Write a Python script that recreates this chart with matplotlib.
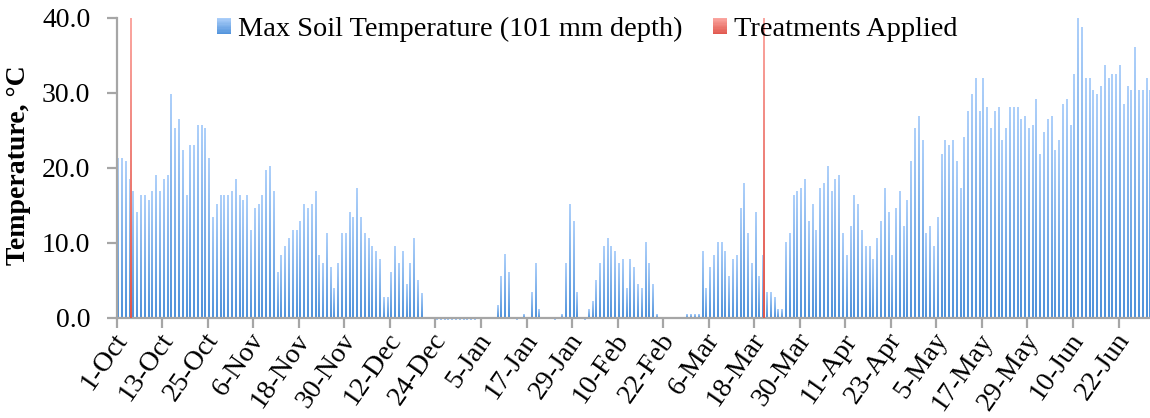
import matplotlib.pyplot as plt
import matplotlib.transforms as mtransforms
import numpy as np
from matplotlib.colors import LinearSegmentedColormap
from matplotlib.legend_handler import HandlerBase
from matplotlib.patches import Patch, Rectangle

# Daily max soil temperature (101 mm depth), 1-Oct .. 30-Jun, deg C
oct_t = [21.3, 21.3, 20.8, 18.4, 16.8, 14.0, 16.3, 16.3, 15.6, 16.8, 19.0, 16.8, 18.4, 19.0, 29.8, 25.2,
         26.4, 22.3, 16.3, 23.0, 23.0, 25.7, 25.7, 25.2, 21.3, 13.4, 15.1, 16.3, 16.3, 16.3, 16.8]
nov_t = [18.4, 16.3, 15.6, 16.3, 11.7, 14.6, 15.1, 16.3, 19.6, 20.2, 16.8, 6.1, 8.3, 9.5, 10.6, 11.7,
         11.7, 12.9, 15.1, 14.6, 15.1, 16.8, 8.3, 7.2, 11.2, 6.7, 3.9, 7.2, 11.2, 11.2]
dec_t = [14.0, 13.4, 17.3, 13.4, 11.2, 10.6, 9.5, 8.9, 7.8, 2.7, 2.7, 6.1, 9.5, 7.2, 8.9, 4.4,
         7.2, 10.6, 5.0, 3.3, 0.0, 0.0, 0.0, -0.3, -0.3, -0.3, -0.3, -0.3, -0.3, -0.3, -0.3]
jan_t = [-0.3, -0.3, -0.3, 0.0, 0.0, 0.0, 0.0, 0.0, 1.6, 5.5, 8.4, 6.1, 0.0, -0.3, 0.0, 0.5,
         0.0, 3.4, 7.2, 1.1, 0.0, 0.0, 0.0, -0.3, 0.0, 0.5, 7.2, 15.1, 12.9, 3.4, 0.0]
feb_t = [-0.3, 1.1, 2.2, 5.0, 7.2, 9.5, 10.6, 9.5, 8.9, 7.2, 7.8, 3.9, 7.8, 6.7, 4.4, 3.9,
         10.1, 7.2, 4.4, 0.5, 0.0, 0.0, 0.0, 0.0, 0.0, 0.0, 0.0, 0.5]
mar_t = [0.5, 0.5, 0.5, 8.9, 3.9, 6.7, 8.3, 10.1, 10.1, 8.9, 5.5, 7.8, 8.3, 14.6, 17.9, 11.2,
         7.2, 14.0, 5.5, 8.3, 3.4, 3.4, 2.7, 1.1, 1.1, 10.1, 11.2, 16.3, 16.8, 17.3, 18.4]
apr_t = [12.9, 15.1, 11.7, 17.3, 17.9, 20.2, 16.8, 18.4, 19.0, 11.2, 8.3, 12.2, 16.3, 15.1, 11.7, 9.5,
         9.5, 7.8, 10.6, 12.9, 17.3, 14.0, 8.3, 14.6, 16.8, 12.2, 15.6, 20.8, 25.2, 26.9]
may_t = [23.6, 11.2, 12.2, 9.5, 13.4, 21.8, 23.6, 23.0, 23.6, 20.8, 17.3, 24.1, 27.5, 29.8, 31.9, 27.5,
         31.9, 28.0, 25.2, 27.5, 28.0, 23.6, 25.2, 28.0, 28.0, 28.0, 26.4, 26.9, 25.2, 25.7, 29.1]
jun_t = [21.8, 24.7, 26.4, 26.9, 22.3, 23.6, 28.5, 29.1, 25.7, 32.5, 40.0, 38.7, 31.9, 31.9, 30.3, 29.8,
         30.8, 33.7, 31.9, 32.4, 32.4, 33.7, 28.5, 30.8, 30.3, 36.0, 30.3, 30.3, 31.9, 30.3]

temps = oct_t + nov_t + dec_t + jan_t + feb_t + mar_t + apr_t + may_t + jun_t

# treatment days (4-Oct and 20-Mar) drawn as full-height bars
treat_days = [3, 170]
treat_height = 40.0

tick_labels = ['1-Oct', '13-Oct', '25-Oct', '6-Nov', '18-Nov', '30-Nov', '12-Dec', '24-Dec',
               '5-Jan', '17-Jan', '29-Jan', '10-Feb', '22-Feb', '6-Mar', '18-Mar', '30-Mar',
               '11-Apr', '23-Apr', '5-May', '17-May', '29-May', '10-Jun', '22-Jun']

BLUE_TOP, BLUE_BOT = '#aed0fa', '#4f92db'
RED_TOP, RED_BOT = '#fba8a2', '#e0564c'
GREY = '#a6a6a6'

plt.rcParams['font.family'] = ['Liberation Serif', 'DejaVu Serif']


def gradient_fill(ax, rects, c_top, c_bot):
    cmap = LinearSegmentedColormap.from_list('g', [c_bot, c_top])
    grad = np.linspace(0, 1, 64).reshape(-1, 1)
    for r in rects:
        h = r.get_height()
        if h == 0:
            continue
        x0, w = r.get_x(), r.get_width()
        ax.imshow(grad if h > 0 else grad[::-1], extent=(x0, x0 + w, min(0, h), max(0, h)),
                  origin='lower', cmap=cmap, aspect='auto', interpolation='bilinear',
                  zorder=r.get_zorder() + 0.01)


class GradientSquare(HandlerBase):
    def __init__(self, c_top, c_bot, **kw):
        super().__init__(**kw)
        self.c_top, self.c_bot = c_top, c_bot

    def create_artists(self, legend, orig_handle, xdescent, ydescent, width, height, fontsize, trans):
        cmap = LinearSegmentedColormap.from_list('g', [self.c_bot, self.c_top])
        n = 12
        arts = []
        for k in range(n):
            arts.append(Rectangle((-xdescent, -ydescent + height * k / n), width, height / n + 0.3,
                                  facecolor=cmap((k + 0.5) / n), edgecolor='none', transform=trans))
        return arts


fig = plt.figure(figsize=(11.5, 4.18), dpi=100)
ax = fig.add_axes([0.1015, 0.2303, 0.8985, 0.7267])

x = np.arange(len(temps))
bars = ax.bar(x + 0.35, temps, width=0.45, color=BLUE_BOT, linewidth=0, zorder=2)
gradient_fill(ax, bars, BLUE_TOP, BLUE_BOT)

tx = np.array(treat_days)
tbars = ax.bar(tx + 0.62, [treat_height] * len(tx), width=0.42, color=RED_BOT, linewidth=0, zorder=3)
gradient_fill(ax, tbars, RED_TOP, RED_BOT)

ax.set_xlim(0, 272.3)
ax.set_ylim(-0.5, 40)

for s in ['top', 'right']:
    ax.spines[s].set_visible(False)
for s in ['left', 'bottom']:
    ax.spines[s].set_color(GREY)
    ax.spines[s].set_linewidth(1.6)
ax.spines['bottom'].set_position(('data', 0))
ax.spines['left'].set_bounds(0, 40)

ax.set_yticks([0, 10, 20, 30, 40])
ax.set_yticklabels([f'{v:.1f}' for v in [0, 10, 20, 30, 40]])
ax.set_xticks(np.arange(0, 12 * len(tick_labels), 12))
ax.set_xticklabels(tick_labels, rotation=55, ha='right', va='center', rotation_mode='anchor')
ax.tick_params(axis='both', colors=GREY, labelcolor='black', labelsize=20, width=1.6,
               length=7, direction='out')
ax.tick_params(axis='x', pad=10)
ax.tick_params(axis='y', pad=12)

# nudge the slanted date labels so their ends sit just right of each tick
shift = mtransforms.ScaledTranslation(0.06, 0.06, fig.dpi_scale_trans)
for lab in ax.get_xticklabels():
    lab.set_transform(lab.get_transform() + shift)

fig.text(0.0165, 0.605, 'Temperature, °C', rotation=90, ha='center', va='center',
         fontsize=20, fontweight='bold')

h_blue = Patch(label='Max Soil Temperature (101 mm depth)')
h_red = Patch(label='Treatments Applied')
fig.legend(handles=[h_blue, h_red], loc='upper left', bbox_to_anchor=(217 / 1150, 1 - 17 / 418),
           ncol=2, frameon=False, fontsize=20.4, borderpad=0, borderaxespad=0,
           handlelength=0.51, handleheight=0.51, handletextpad=0.24, columnspacing=1.06,
           handler_map={h_blue: GradientSquare(BLUE_TOP, BLUE_BOT),
                        h_red: GradientSquare(RED_TOP, RED_BOT)})

fig.savefig('out.png', dpi=100)
